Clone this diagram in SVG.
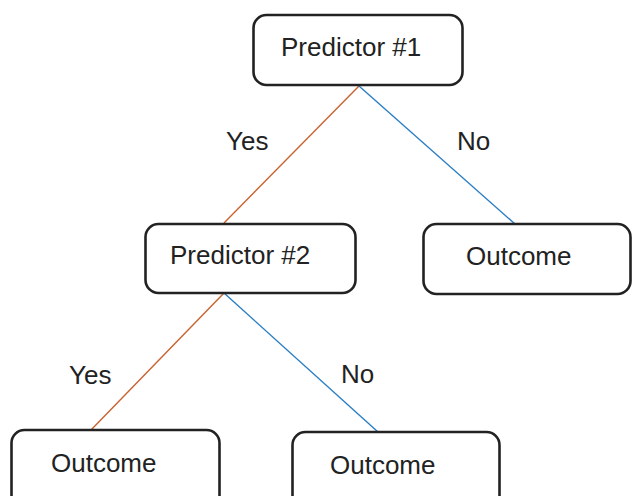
<svg xmlns="http://www.w3.org/2000/svg" width="632" height="496" viewBox="0 0 632 496">
<style>
.box{fill:#fff;stroke:#222;stroke-width:2.6}
.t{font-family:"Liberation Sans",Arial,sans-serif;font-size:26px;fill:#222}
.yes{stroke:#c9622f;stroke-width:1.4;fill:none}
.no{stroke:#2a7ec4;stroke-width:1.4;fill:none}
</style>
<rect width="632" height="496" fill="#fff"/>
<g id="connectors">
<line class="yes" x1="359" y1="86" x2="224" y2="223"/>
<line class="no" x1="359" y1="86" x2="515" y2="224"/>
<line class="yes" x1="224" y1="293" x2="91" y2="430"/>
<line class="no" x1="224" y1="293" x2="378" y2="432"/>
<text class="t" x="226" y="150">Yes</text>
<text class="t" x="457" y="150">No</text>
<text class="t" x="69" y="384">Yes</text>
<text class="t" x="341" y="383">No</text>
</g>
<g id="p1">
<rect class="box" x="253.5" y="15" width="209" height="70" rx="13"/>
<text class="t" x="281" y="56">Predictor #1</text>
</g>
<g id="p2">
<rect class="box" x="145.5" y="224" width="210" height="69" rx="13"/>
<text class="t" x="170" y="264">Predictor #2</text>
</g>
<g id="o1">
<rect class="box" x="423.5" y="224" width="207" height="70" rx="13"/>
<text class="t" x="466" y="265">Outcome</text>
</g>
<g id="o2">
<rect class="box" x="11.5" y="430" width="208" height="80" rx="13"/>
<text class="t" x="51" y="472">Outcome</text>
</g>
<g id="o3">
<rect class="box" x="292.5" y="432" width="207" height="80" rx="13"/>
<text class="t" x="330" y="474">Outcome</text>
</g>
</svg>
